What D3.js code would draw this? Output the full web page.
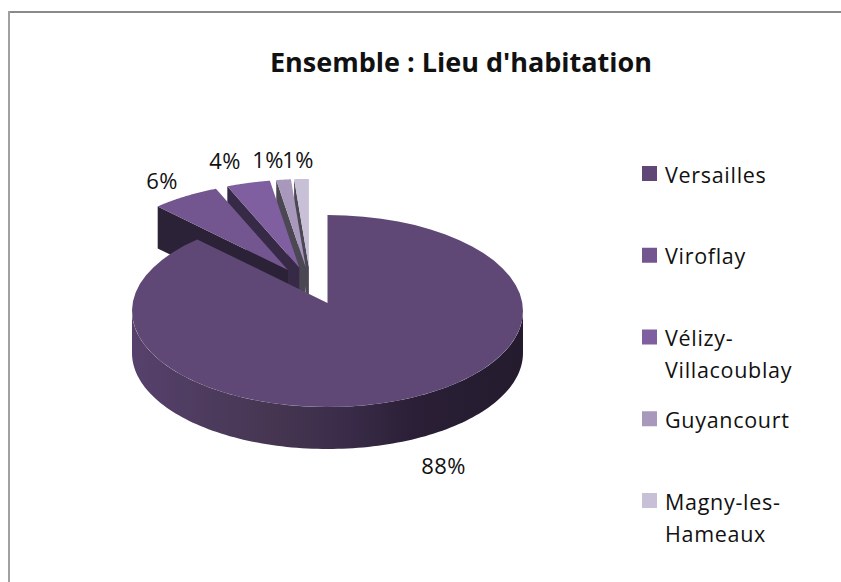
<!DOCTYPE html>
<html>
<head>
<meta charset="utf-8">
<title>Ensemble : Lieu d'habitation</title>
<script src="https://cdnjs.cloudflare.com/ajax/libs/d3/7.8.5/d3.min.js"></script>
<style>
    html, body { margin: 0; padding: 0; background: #fff; }
    svg { display: block; }
    text { font-family: "Open Sans", Lato, sans-serif; fill: #111; font-variant-ligatures: none; }
</style>
</head>
<body>
<div id="chart"></div>
<script>
// Data
var chartTitle = "Ensemble : Lieu d'habitation";
var categories = ["Versailles", "Viroflay", "Vélizy-Villacoublay", "Guyancourt", "Magny-les-Hameaux"];
var shares = [88.4, 5.6, 3.6, 1.2, 1.2];

// Legend entries wrap like the original
var legendLines = [["Versailles"], ["Viroflay"], ["Vélizy-", "Villacoublay"], ["Guyancourt"], ["Magny-les-", "Hameaux"]];

var topColors = ["#5f4876", "#735590", "#7f5f9f", "#a898bc", "#c8c0d6"];
var wallColors = ["#3c2e4d", "#2c2238", "#362a46", "#4b4753", "#4b4753"];

// Sizing
var width = 841;
var height = 582;

// 3D look of the pie
var center = {x: 327.5, y: 311};
var radiusX = 195.5;
var radiusY = 96;
var apexLift = 8;    // the apex sits a bit above the ellipse centre (perspective)
var depth = 42;
var explode = 0.22;  // radial pull of the small slices
var groupShift = {x: -17, y: -15};

var svg = d3.select("#chart").append("svg")
    .attr("width", width)
    .attr("height", height);

// chart frame: only top and left edges are in the picture
svg.append("line").attr("x1", 8).attr("y1", 12).attr("x2", width).attr("y2", 12)
    .attr("stroke", "#8a8a8a").attr("stroke-width", 2);
svg.append("line").attr("x1", 9).attr("y1", 11).attr("x2", 9).attr("y2", height)
    .attr("stroke", "#a0a0a0").attr("stroke-width", 2);

svg.append("text")
    .attr("x", 461).attr("y", 72)
    .attr("text-anchor", "middle")
    .style("font-size", "27px").style("font-weight", 700)
    .text(chartTitle);

var pie = d3.pie().sort(null)
    .startAngle(0).endAngle(2 * Math.PI);
var arcs = pie(shares);

// horizontal and vertical projection of the tilted disc
var px = d3.scaleLinear().domain([-1, 1]).range([center.x - radiusX, center.x + radiusX]);
var py = d3.scaleLinear().domain([-1, 1]).range([center.y - radiusY, center.y + radiusY]);

function project(angle, r, offset) {
    return [
        px(r * Math.sin(angle)) + offset.x,
        py(-r * Math.cos(angle)) - apexLift * (1 - r) + offset.y
    ];
}

function slicePoints(d, offset) {
    var pts = [project(0, 0, offset)];
    d3.range(0, 61).forEach(function (i) {
        var a = d.startAngle + (d.endAngle - d.startAngle) * i / 60;
        pts.push(project(a, 1, offset));
    });
    return pts;
}

function offsetFor(i, d) {
    if (i === 0) return {x: 0, y: 0};
    var mid = (d.startAngle + d.endAngle) / 2;
    return {
        x: groupShift.x + explode * radiusX * Math.sin(mid),
        y: groupShift.y - explode * radiusY * Math.cos(mid)
    };
}

var line = d3.line();

var defs = svg.append("defs");
var sideGrad = defs.append("linearGradient")
    .attr("id", "side-shade")
    .attr("gradientUnits", "userSpaceOnUse")
    .attr("x1", center.x - radiusX).attr("y1", 0)
    .attr("x2", center.x + radiusX).attr("y2", 0);
sideGrad.selectAll("stop")
    .data([[0, "#56416c"], [0.35, "#463652"], [0.55, "#3a2c49"], [0.72, "#2a1f36"], [1, "#241b2e"]])
    .enter().append("stop")
    .attr("offset", function (d) { return d[0]; })
    .attr("stop-color", function (d) { return d[1]; });

var pieG = svg.append("g").attr("class", "pie");

// small slices first, right to left, the big one goes on top of them
d3.range(arcs.length - 1, 0, -1).forEach(function (i) {
    var d = arcs[i];
    var off = offsetFor(i, d);
    var apex = project(0, 0, off);
    var rim = project(d.startAngle, 1, off);
    pieG.append("path")
        .attr("d", line([rim, apex, [apex[0], apex[1] + depth], [rim[0], rim[1] + depth]]) + "Z")
        .attr("fill", wallColors[i]);
    pieG.append("path")
        .attr("d", line(slicePoints(d, off)) + "Z")
        .attr("fill", topColors[i]);
});

// outer wall of the big slice, only the front half shows
var front = [];
d3.range(0, 121).forEach(function (i) {
    var a = Math.PI / 2 + Math.PI * i / 120;
    front.push(project(a, 1, {x: 0, y: 0}));
});
var wall = front.concat(front.slice().reverse().map(function (p) { return [p[0], p[1] + depth]; }));
pieG.append("path")
    .attr("d", line(wall) + "Z")
    .attr("fill", "url(#side-shade)");

pieG.append("path")
    .attr("d", line(slicePoints(arcs[0], {x: 0, y: 0})) + "Z")
    .attr("fill", topColors[0]);

// percentage labels
var labelAnchors = [[443.5, 474], [162, 189], [225, 169], [268, 168], [298, 168]];
svg.selectAll(".pct")
    .data(shares)
    .enter().append("text")
    .attr("class", "pct")
    .attr("x", function (d, i) { return labelAnchors[i][0]; })
    .attr("y", function (d, i) { return labelAnchors[i][1]; })
    .attr("text-anchor", "middle")
    .style("font-size", "22px")
    .style("letter-spacing", "0.4px")
    .text(function (d) { return Math.round(d) + "%"; });

// legend
var legendX = 642;
var legendY = d3.scalePoint().domain(categories)
    .range([166, 493]);
var legendRow = svg.selectAll(".legend-row")
    .data(categories)
    .enter().append("g")
    .attr("class", "legend-row")
    .attr("transform", function (d) { return "translate(" + legendX + "," + legendY(d) + ")"; });

legendRow.append("rect")
    .attr("width", 15).attr("height", 15)
    .attr("fill", function (d, i) { return topColors[i]; });

legendRow.each(function (d, i) {
    d3.select(this).selectAll("text")
        .data(legendLines[i])
        .enter().append("text")
        .attr("x", 23)
        .attr("y", function (t, j) { return 16.5 + j * 32; })
        .style("font-size", "21.5px")
        .style("letter-spacing", "0.7px")
        .text(function (t) { return t; });
});
</script>
</body>
</html>
